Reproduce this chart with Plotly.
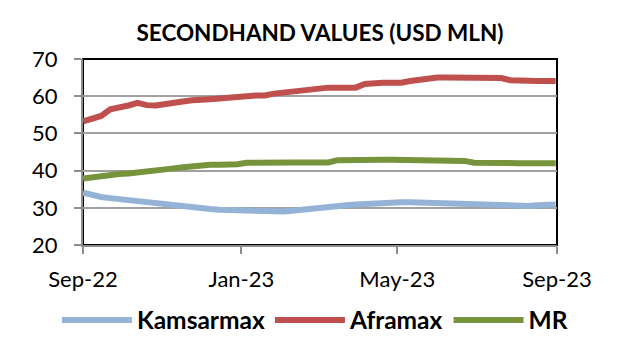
import pandas as pd
import plotly.graph_objects as go

dates = pd.date_range("2022-09-01", periods=53, freq="7D")

kamsarmax = [34.1, 33.3, 32.9, 32.6, 32.3, 32.0, 31.7, 31.4, 31.2, 30.9,
             30.7, 30.5, 30.2, 29.9, 29.7, 29.5, 29.4, 29.2, 29.0, 28.9,
             28.9, 28.9, 29.0, 29.2, 29.5, 29.9, 30.2, 30.4, 30.5, 30.7,
             30.9, 31.1, 31.3, 31.4, 31.5, 31.5, 31.5, 31.4, 31.3, 31.2,
             31.0, 30.9, 30.8, 30.7, 30.6, 30.5, 30.5, 30.4, 30.4, 30.5,
             30.7, 30.8, 30.9]

aframax = [53.2, 53.8, 54.7, 56.5, 56.8, 57.5, 58.2, 57.6, 57.5, 58.0,
           58.3, 58.6, 58.9, 58.9, 59.2, 59.4, 59.5, 59.5, 60.0, 60.2,
           60.2, 60.7, 61.0, 61.2, 61.6, 62.1, 62.3, 62.3, 62.3, 62.3,
           62.3, 63.3, 63.6, 63.6, 63.6, 63.6, 64.1, 64.4, 64.9, 65.0,
           65.0, 65.0, 65.0, 65.0, 65.0, 65.0, 64.9, 64.3, 64.1, 64.1,
           64.1, 64.1, 64.1]

mr = [37.9, 38.3, 38.6, 38.9, 39.1, 39.2, 39.4, 40.0, 40.2, 40.2,
      40.6, 40.9, 41.2, 41.5, 41.6, 41.6, 41.6, 41.7, 42.1, 42.2,
      42.2, 42.2, 42.2, 42.2, 42.2, 42.2, 42.2, 42.2, 42.8, 42.9,
      42.9, 42.9, 42.9, 42.9, 42.9, 42.9, 42.9, 42.9, 42.9, 42.9,
      42.9, 42.9, 42.6, 42.1, 42.0, 42.0, 42.0, 42.0, 42.0, 42.0,
      42.0, 42.0, 42.0]

x_tickvals = ["2022-09-01", "2023-01-01", "2023-05-01", "2023-09-01"]
x_ticktext = ["Sep-22", "Jan-23", "May-23", "Sep-23"]
y_tickvals = [20, 30, 40, 50, 60, 70]

FONT = "Lato"

fig = go.Figure()
series = [("Kamsarmax", kamsarmax, "#95B3D7"),
          ("Aframax", aframax, "#C0504D"),
          ("MR", mr, "#77933C")]
for name, vals, color in series:
    fig.add_trace(go.Scatter(x=dates, y=vals, mode="lines", name=name,
                             line=dict(color=color, width=6)))

fig.update_layout(
    width=625, height=356,
    margin=dict(l=83, r=68, t=59, b=111, autoexpand=False),
    paper_bgcolor="white", plot_bgcolor="white",
    font=dict(family=FONT, color="#000000"),
    title=dict(text="<b>SECONDHAND VALUES (USD MLN)</b>", x=0.5, xref="paper",
               xanchor="center", y=0.907, yanchor="middle",
               font=dict(size=22.5, family=FONT, color="#000000")),
    legend=dict(orientation="h", x=-0.055, xanchor="left", y=-0.403,
                yanchor="middle",
                font=dict(size=24.5, family=FONT, color="#000000", weight="bold"),
                itemwidth=70, tracegroupgap=0, bgcolor="rgba(0,0,0,0)"),
    showlegend=True,
)
fig.update_xaxes(range=["2022-09-01", "2023-09-01"], tickvals=x_tickvals,
                 ticktext=x_ticktext, showgrid=False, showline=True,
                 linecolor="#8C8C8C", linewidth=2, ticks="outside", ticklen=7,
                 tickcolor="#8C8C8C", tickwidth=2, zeroline=False,
                 ticklabelstandoff=7,
                 tickfont=dict(size=22, family=FONT, color="#000000"))
fig.update_yaxes(range=[20, 70], tickvals=y_tickvals, showgrid=True,
                 gridcolor="#A0A0A0", gridwidth=1.5, showline=True,
                 linecolor="#8C8C8C", linewidth=2, ticks="outside", ticklen=7,
                 tickcolor="#8C8C8C", tickwidth=2, zeroline=False,
                 ticklabelstandoff=12,
                 tickfont=dict(size=22, family=FONT, color="#000000"))
fig.add_shape(type="rect", xref="paper", yref="paper", x0=0, y0=0, x1=1, y1=1,
              line=dict(color="#000000", width=2), layer="below")

fig.write_html("out.html", config={"displayModeBar": False},
               post_script="document.body.style.margin='0px';")
